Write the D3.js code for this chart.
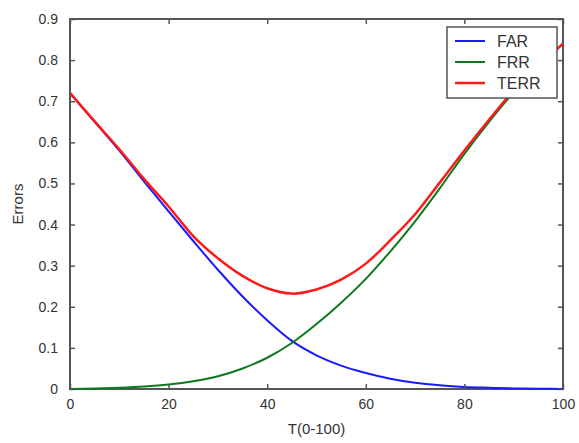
<!DOCTYPE html>
<html>
<head>
<meta charset="utf-8">
<script src="https://cdn.jsdelivr.net/npm/d3@7/dist/d3.min.js"></script>
<style>
html,body{margin:0;padding:0;background:#fff;}
svg{display:block;}
text{font-family:"Liberation Sans",Arial,sans-serif;fill:#333;}
</style>
</head>
<body>
<svg id="chart" width="579" height="443"></svg>
<script>
const T = [0,5,10,15,20,25,30,35,40,45,50,55,60,65,70,75,80,85,90,95,100];
const FAR  = [0.72,0.65,0.58,0.505,0.432,0.36,0.29,0.225,0.167,0.117,0.082,0.057,0.039,0.025,0.015,0.009,0.005,0.003,0.0015,0.0007,0];
const FRR  = [0,0.001,0.003,0.006,0.011,0.019,0.031,0.05,0.076,0.112,0.158,0.21,0.268,0.335,0.408,0.488,0.572,0.65,0.722,0.784,0.84];
const TERR = [0.72,0.651,0.583,0.511,0.444,0.372,0.318,0.275,0.245,0.232,0.242,0.266,0.305,0.362,0.425,0.502,0.58,0.655,0.726,0.785,0.84];
const xTicks = [0,20,40,60,80,100];
const yTicks = [0,0.1,0.2,0.3,0.4,0.5,0.6,0.7,0.8,0.9];
const series = [
  {name:"FAR", values:FAR, color:"#1a1aff", width:2},
  {name:"FRR", values:FRR, color:"#0b7a1e", width:2},
  {name:"TERR", values:TERR, color:"#ff1a1a", width:2.5}
];

const svg = d3.select("#chart");
const m = {left:70, right:16, top:19, bottom:54};
const W = 579, H = 443;
const x = d3.scaleLinear().domain([0,100]).range([m.left, W - m.right]);
const y = d3.scaleLinear().domain([0,0.9]).range([H - m.bottom, m.top]);
const axisColor = "#555";

// plot frame
svg.append("rect").attr("x", x(0)).attr("y", y(0.9))
  .attr("width", x(100)-x(0)).attr("height", y(0)-y(0.9))
  .attr("fill","#fff").attr("stroke", axisColor).attr("stroke-width", 2);

// lines
const line = d3.line().x((d,i)=>x(T[i])).y(d=>y(d)).curve(d3.curveCatmullRom.alpha(0.5));
svg.append("clipPath").attr("id","clip").append("rect")
  .attr("x", x(0)).attr("y", y(0.9)).attr("width", x(100)-x(0)).attr("height", y(0)-y(0.9)+2);
series.forEach(s=>{
  svg.append("path").datum(s.values).attr("d", line)
    .attr("fill","none").attr("stroke", s.color).attr("stroke-width", s.width)
    .attr("stroke-linejoin","round")
    .attr("clip-path","url(#clip)");
});

// axes
function styleAxis(g){
  g.select(".domain").remove();
  g.selectAll(".tick line").attr("stroke", axisColor).attr("stroke-width",1.5);
  g.selectAll(".tick text").attr("fill","#333").style("font-size","14px")
    .style("font-family","'Liberation Sans',Arial,sans-serif");
}
svg.append("g").attr("transform",`translate(0,${y(0)})`)
  .call(d3.axisBottom(x).tickValues(xTicks).tickSize(-5).tickPadding(10).tickFormat(d3.format("d")))
  .call(styleAxis);
svg.append("g").attr("transform",`translate(0,${y(0.9)})`)
  .call(d3.axisTop(x).tickValues(xTicks).tickSize(-5).tickFormat(""))
  .call(styleAxis);
svg.append("g").attr("transform",`translate(${x(0)},0)`)
  .call(d3.axisLeft(y).tickValues(yTicks).tickSize(-5).tickPadding(12).tickFormat(d=>d===0?"0":d3.format(".1f")(d)))
  .call(styleAxis);
svg.append("g").attr("transform",`translate(${x(100)},0)`)
  .call(d3.axisRight(y).tickValues(yTicks).tickSize(-5).tickFormat(""))
  .call(styleAxis);

// axis labels
svg.append("text").attr("x", x(50)).attr("y", 434).attr("text-anchor","middle")
  .style("font-size","15px").text("T(0-100)");
svg.append("text").attr("transform",`translate(23,${(y(0)+y(0.9))/2}) rotate(-90)`)
  .attr("text-anchor","middle").style("font-size","15px").text("Errors");

// legend
const lg = svg.append("g").attr("transform","translate(447,27)");
lg.append("rect").attr("width",110).attr("height",71).attr("fill","#fff")
  .attr("stroke", axisColor).attr("stroke-width",1.5);
series.forEach((s,i)=>{
  const yy = 14 + i*21;
  lg.append("line").attr("x1",8).attr("x2",38).attr("y1",yy).attr("y2",yy)
    .attr("stroke", s.color).attr("stroke-width", s.width);
  lg.append("text").attr("x",50).attr("y",yy+5.5).style("font-size","16px").text(s.name);
});
</script>
</body>
</html>
